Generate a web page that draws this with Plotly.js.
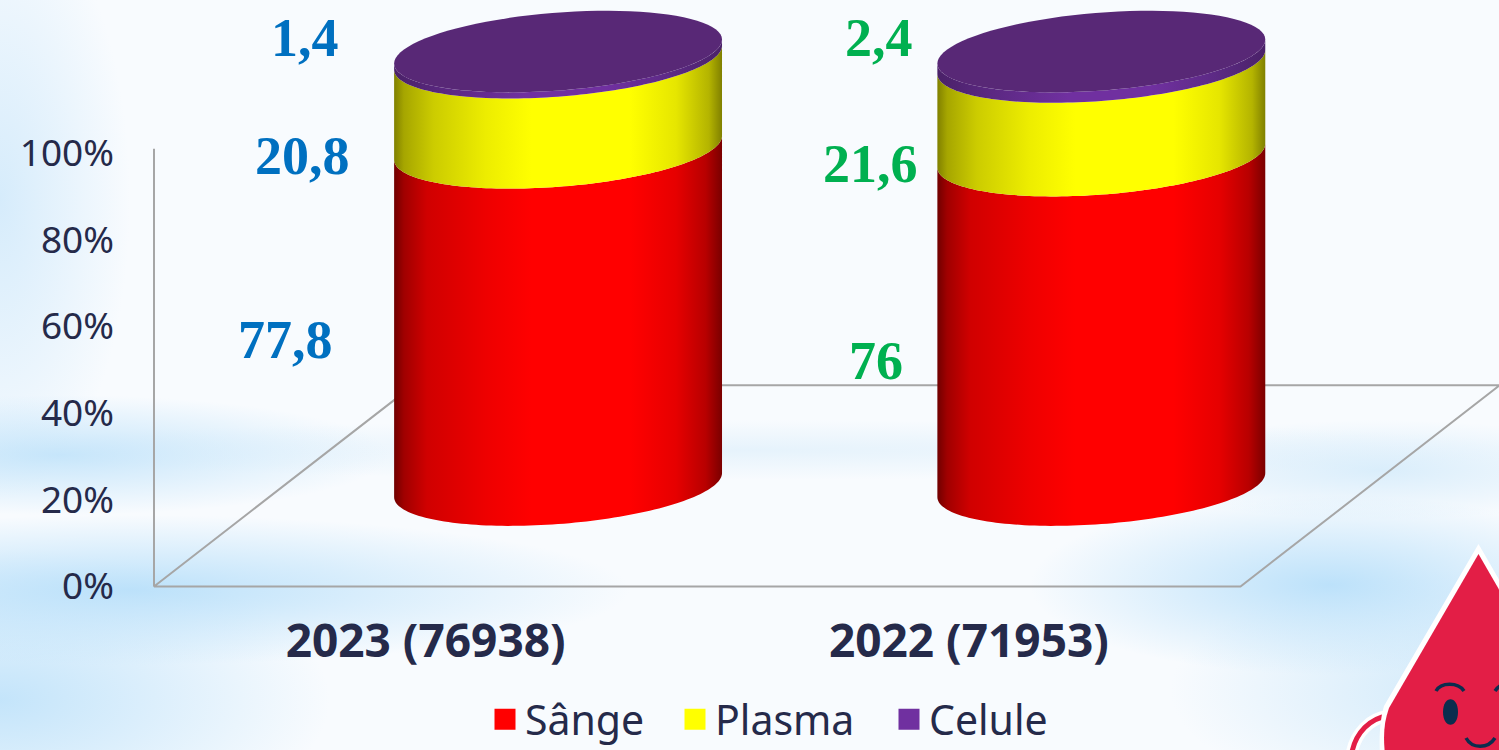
<!DOCTYPE html>
<html>
<head>
<meta charset="utf-8">
<script src="https://cdn.plot.ly/plotly-3.0.1.min.js"></script>
<style>
html,body{margin:0;padding:0;width:1499px;height:750px;overflow:hidden;}
body{background:
 radial-gradient(ellipse 330px 60px at 60px 455px,rgba(190,226,250,.85),rgba(190,226,250,0)),
 radial-gradient(ellipse 500px 75px at 130px 590px,rgba(185,224,250,.95),rgba(185,224,250,0)),
 radial-gradient(ellipse 330px 150px at 0px 700px,rgba(190,226,250,.9),rgba(190,226,250,0)),
 radial-gradient(ellipse 300px 90px at 1330px 585px,rgba(185,224,250,.95),rgba(185,224,250,0)),
 radial-gradient(ellipse 300px 120px at 1470px 690px,rgba(205,232,250,.9),rgba(205,232,250,0)),
 radial-gradient(ellipse 260px 50px at 1380px 470px,rgba(205,232,250,.7),rgba(205,232,250,0)),
 radial-gradient(ellipse 800px 30px at 750px 450px,rgba(215,236,250,.55),rgba(215,236,250,0)),
 radial-gradient(ellipse 130px 300px at 0px 200px,rgba(210,234,251,.9),rgba(210,234,251,0)),
 #f8fbfe;}
#chart{position:absolute;left:0;top:0;width:1499px;height:750px;}
</style>
</head>
<body>
<div id="chart"></div>
<script>
// Data
const categories = ['2023 (76938)', '2022 (71953)'];
const sange  = [77.8, 76];
const plasma = [20.8, 21.6];
const celule = [1.4, 2.4];
const seriesNames = ['Sânge', 'Plasma', 'Celule'];
const seriesColors = ['#ff0000', '#ffff00', '#7030a0'];
const yTicks = [0, 20, 40, 60, 80, 100];
const labelColors = ['#0070c0', '#00b050'];

// Page geometry: the plot fills the page so the 3D cylinders are not clipped
const W = 1499, H = 750, L = 154, R = 1240.5, T = 153, B = 586.5;
const unitX = (R - L) / 2, unitY = (B - T) / 100;
const xRange = [-0.5 - L / unitX, -0.5 + (W - L) / unitX];
const yRange = [-(H - B) / unitY, B / unitY];
const pxX = (p) => p / W;
const pxY = (p) => 1 - p / H;

// Cylinder projection, in axis units
const depthX = 0.2438, radius = 0.3018, baseY = 23.4, tiltY = 2.77, minorY = 9.0;
const N = 90;
function arc(c, level, from, to) {
  const xs = [], ys = [];
  for (let i = 0; i <= N; i++) {
    const t = from + (to - from) * i / N;
    xs.push(c + depthX + radius * Math.cos(t));
    ys.push(baseY + level + tiltY * Math.cos(t) - minorY * Math.sin(t));
  }
  return [xs, ys];
}
function band(c, lo, hi, scale) {
  const a = arc(c, hi, Math.PI, 0), b = arc(c, lo, 0, Math.PI);
  return {
    x: a[0].concat(b[0]), y: a[1].concat(b[1]), type: 'scatter', mode: 'none', fill: 'toself',
    fillgradient: {type: 'horizontal', colorscale: scale},
    cliponaxis: false, hoverinfo: 'skip', showlegend: false
  };
}
const redScale = [[0,'#700000'],[0.03,'#a00000'],[0.1,'#d00000'],[0.28,'#ee0000'],[0.42,'#ff0000'],[0.72,'#ff0000'],[0.86,'#e60000'],[0.95,'#b80000'],[1,'#7a0000']];
const yellowScale = [[0,'#808000'],[0.03,'#a6a600'],[0.12,'#cccc00'],[0.28,'#eded00'],[0.42,'#ffff00'],[0.72,'#ffff00'],[0.86,'#e6e600'],[0.96,'#b4b400'],[1,'#808000']];
const purpleScale = [[0,'#4a2168'],[0.15,'#5a2880'],[0.4,'#7030a0'],[0.65,'#7030a0'],[0.85,'#5c2a84'],[1,'#4a2168']];

const traces = [];
const boxLine = {color: '#a6a6a6', width: 2};
// left wall
traces.push({
  x: [-0.5, -0.5], y: [0, 101], type: 'scatter', mode: 'lines', line: boxLine,
  hoverinfo: 'skip', showlegend: false
});
// floor outline of the 3D box
const bx = 0.477, by = 46.4;
traces.push({
  x: [1.5 + bx, -0.5 + bx, -0.5, 1.5, 1.5 + bx], y: [by, by, 0, 0, by],
  type: 'scatter', mode: 'lines', line: boxLine,
  hoverinfo: 'skip', showlegend: false
});
categories.forEach((cat, i) => {
  const a = sange[i], b = a + plasma[i], c = b + celule[i];
  traces.push(band(i, 0, a, redScale));
  traces.push(band(i, a, b, yellowScale));
  traces.push(band(i, b, c, purpleScale));
  const top = arc(i, c, 0, 2 * Math.PI);
  traces.push({
    x: top[0], y: top[1], type: 'scatter', mode: 'none', fill: 'toself', fillcolor: '#582876',
    hoverinfo: 'skip', showlegend: false
  });
});
// legend entries, one legend each so the spacing can follow the picture
const legendLeft = [485, 675, 889];
const legendKeys = ['legend', 'legend2', 'legend3'];
seriesNames.forEach((name, i) => {
  traces.push({
    x: [null], y: [null], type: 'scatter', mode: 'markers', name: name, legend: legendKeys[i],
    marker: {symbol: 'square', size: 16, color: seriesColors[i], line: {color: seriesColors[i], width: 5}}
  });
});

const fmt = (v) => String(v).replace('.', ',');
const labelFont = (i) => ({family: '"Liberation Serif", serif', size: 54, color: labelColors[i]});
const valuePos = [
  [[285, 340], [302, 156], [305, 38]],
  [[876, 361], [870, 164], [879, 38]]
];
const annotations = [];
[sange, plasma, celule].forEach((series, s) => {
  series.forEach((v, i) => {
    annotations.push({
      xref: 'paper', yref: 'paper', x: pxX(valuePos[i][s][0]), y: pxY(valuePos[i][s][1]),
      xanchor: 'center', yanchor: 'middle', showarrow: false, text: '<b>' + fmt(v) + '</b>', font: labelFont(i)
    });
  });
});

// mascot drawn in page pixels
const mp = (d) => d.replace(/(-?[\d.]+),(-?[\d.]+)/g, (m, x, y) => pxX(+x).toFixed(5) + ',' + pxY(+y).toFixed(5));
const pshape = (d, fill, lineColor, lw) => ({
  type: 'path', xref: 'paper', yref: 'paper', path: mp(d),
  fillcolor: fill, line: {color: lineColor || 'rgba(0,0,0,0)', width: lw || 0}, layer: 'above'
});
const navy = '#0b2d4e', dropRed = '#e31e46';
const shapes = [
  pshape('M1352,752 C1356,733 1370,718 1388,716', 'rgba(0,0,0,0)', '#ffffff', 12),
  pshape('M1352,752 C1356,733 1370,718 1388,716', 'rgba(0,0,0,0)', dropRed, 5),
  pshape('M1478.5,544 L1505,590 L1505,755 L1380,755 C1379,735 1380,720 1384,706 Z', '#ffffff'),
  pshape('M1478.5,554 L1505,600 L1505,755 L1385,755 C1383,735 1384,722 1389,708 Z', dropRed),
  pshape('M1436,691 C1441,682 1458,682 1464,691', 'rgba(0,0,0,0)', navy, 3.5),
  pshape('M1495,691 C1497,688 1499,686 1502,685', 'rgba(0,0,0,0)', navy, 3.5),
  pshape('M1466,738 C1472,749 1488,749 1495,738', 'rgba(0,0,0,0)', navy, 3.5),
  pshape('M1443,712 C1443,695 1458,695 1458,712 C1458,729 1443,729 1443,712 Z', navy)
];

const legendStyle = (px) => ({
  orientation: 'h', x: pxX(px), xanchor: 'left', y: pxY(686), yanchor: 'top',
  font: {family: '"Noto Sans", sans-serif', size: 41, color: '#252a4a'},
  bgcolor: 'rgba(0,0,0,0)', itemclick: false, itemdoubleclick: false
});

const layout = {
  width: W, height: H,
  margin: {l: 0, r: 0, t: 0, b: 0, pad: 0, autoexpand: false},
  paper_bgcolor: 'rgba(0,0,0,0)', plot_bgcolor: 'rgba(0,0,0,0)',
  xaxis: {
    type: 'linear', range: xRange, anchor: 'free', position: 1 - B / H,
    tickmode: 'array', tickvals: categories.map((c, i) => i), ticktext: categories,
    showgrid: false, zeroline: false, showline: false, ticks: '',
    ticklabelstandoff: 23,
    tickfont: {family: '"Noto Sans", sans-serif', size: 46, color: '#252a4a', weight: 700}
  },
  yaxis: {
    range: yRange, anchor: 'free', position: L / W,
    tickmode: 'array', tickvals: yTicks, ticktext: yTicks.map((v) => v + '%'),
    showgrid: false, zeroline: false, showline: false, ticks: '',
    ticklabelstandoff: 40,
    tickfont: {family: '"Noto Sans", sans-serif', size: 37, color: '#252a4a'}
  },
  showlegend: true,
  legend: legendStyle(legendLeft[0]),
  legend2: legendStyle(legendLeft[1]),
  legend3: legendStyle(legendLeft[2]),
  annotations: annotations,
  shapes: shapes
};
Plotly.newPlot('chart', traces, layout, {displayModeBar: false, responsive: false});
</script>
</body>
</html>
